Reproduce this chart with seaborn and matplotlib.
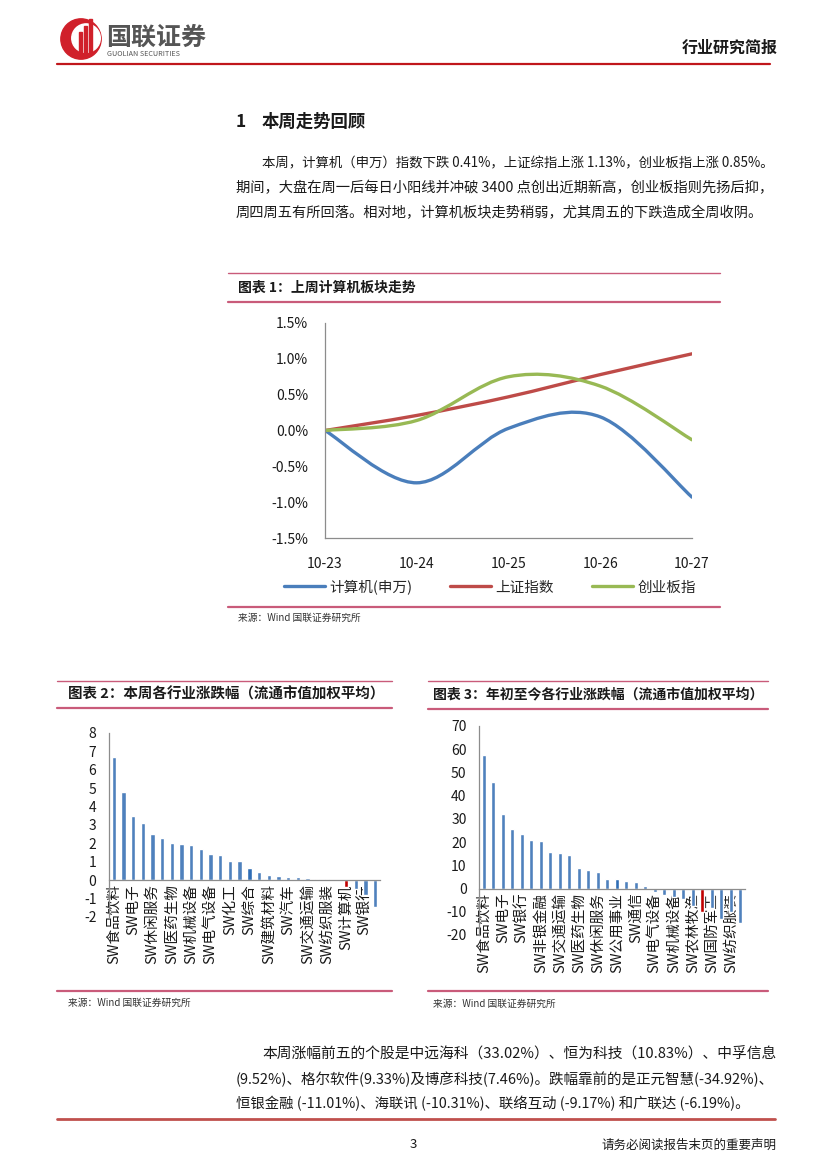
import numpy as np
import pandas as pd
import matplotlib
matplotlib.use('Agg')
import matplotlib.pyplot as plt
import seaborn as sns
from matplotlib.lines import Line2D
from matplotlib.path import Path
from matplotlib.patches import PathPatch, Circle, Rectangle

# ---- data ----
dates = ['10-23', '10-24', '10-25', '10-26', '10-27']
computer = [0.00, -0.73, 0.03, 0.19, -0.93]
shanghai = [0.00, 0.21, 0.47, 0.78, 1.07]
chinext = [0.00, 0.14, 0.75, 0.62, -0.13]
series_names = ['计算机(申万)', '上证指数', '创业板指']

week_labels = ['SW食品饮料', '', 'SW电子', '', 'SW休闲服务', '', 'SW医药生物', '',
               'SW机械设备', '', 'SW电气设备', '', 'SW化工', '', 'SW综合', '',
               'SW建筑材料', '', 'SW汽车', '', 'SW交通运输', '', 'SW纺织服装', '',
               'SW计算机', '', 'SW银行', '']
week_values = [6.70, 4.80, 3.50, 3.10, 2.50, 2.30, 2.01, 1.97, 1.92, 1.68,
               1.41, 1.39, 1.04, 1.04, 0.68, 0.46, 0.29, 0.24, 0.16, 0.15,
               0.11, 0.09, 0.05, 0.02, -0.38, -0.50, -0.80, -1.48]

ytd_labels = ['SW食品饮料', '', 'SW电子', '', 'SW银行', '', 'SW非银金融', '',
              'SW交通运输', '', 'SW医药生物', '', 'SW休闲服务', '', 'SW公用事业', '',
              'SW通信', '', 'SW电气设备', '', 'SW机械设备', '', 'SW农林牧渔', '',
              'SW国防军工', '', 'SW纺织服装', '']
ytd_values = [57.6, 45.9, 32.1, 25.6, 23.6, 21.0, 20.6, 15.6, 15.3, 14.3,
              8.9, 8.1, 7.3, 4.0, 4.0, 3.3, 2.7, 1.3, -1.6, -2.9,
              -3.6, -4.3, -7.6, -9.9, -8.2, -12.9, -10.3, -14.8]

# ---- style ----
W, H = 827, 1169
BLUE = '#4F81BD'
DARK_BLUE = '#2F6DB5'
BAR_RED = '#C00000'
LINE_COLORS = ['#4A7EBB', '#BE4B48', '#98B954']
PINK = '#C95B7A'
AXIS_GRAY = '#8C8C8C'
TEXT = '#1a1a1a'

sns.set_style('white')
plt.rcParams['font.family'] = ['Noto Sans CJK SC', 'DejaVu Sans']
plt.rcParams['axes.unicode_minus'] = False

fig = plt.figure(figsize=(W / 100, H / 100), dpi=100)
renderer = fig.canvas.get_renderer()


def rect(x0, y0, x1, y1):
    return [x0 / W, 1 - y1 / H, (x1 - x0) / W, (y1 - y0) / H]


def hline(x0, x1, y, color, lw):
    fig.add_artist(Line2D([x0 / W, x1 / W], [1 - y / H, 1 - y / H],
                          transform=fig.transFigure, color=color, lw=lw))


def put(x, y, s, size, ha='left', **kw):
    return fig.text(x / W, 1 - y / H, s, fontsize=size, ha=ha, va='center',
                    color=kw.pop('color', TEXT), **kw)


def fit(x0, x1, y, s, size, lo=0.9, hi=1.05, **kw):
    t = put(x0, y, s, size, **kw)
    w = t.get_window_extent(renderer).width
    ratio = min(max((x1 - x0) / w, lo), hi)
    t.set_fontsize(size * ratio)
    return t


# ---- header ----
logo = fig.add_axes(rect(60, 18, 102, 60))
logo.set_xlim(0, 1)
logo.set_ylim(0, 1)
logo.set_aspect('equal')
logo.axis('off')
logo.add_patch(Circle((0.5, 0.5), 0.48, color='#D0202A'))
logo.add_patch(Circle((0.62, 0.52), 0.34, color='white'))
for i, hgt in enumerate([0.55, 0.7, 0.85]):
    logo.add_patch(Rectangle((0.45 + i * 0.12, 0.12), 0.07, hgt, color='#D0202A'))
put(106, 38, '国联证券', 18, weight='bold', color='#555555')
put(107, 54, 'GUOLIAN SECURITIES', 5.2, color='#555555')
put(778, 48, '行业研究简报', 11.5, ha='right', weight='bold')
hline(57, 770, 64, '#C0161B', 1.6)

# ---- section 1 text ----
put(236, 122, '1', 12.5, weight='bold')
put(262, 122, '本周走势回顾', 12.5, weight='bold')
fit(262, 777, 163, '本周，计算机（申万）指数下跌 0.41%，上证综指上涨 1.13%，创业板指上涨 0.85%。', 10.5)
fit(236, 777, 188, '期间，大盘在周一后每日小阳线并冲破 3400 点创出近期新高，创业板指则先扬后抑，', 10.5)
fit(236, 765, 213, '周四周五有所回落。相对地，计算机板块走势稍弱，尤其周五的下跌造成全周收阴。', 10.5)

# ---- chart 1 ----
hline(228, 720, 273, PINK, 1.0)
hline(228, 720, 302, PINK, 1.6)
hline(228, 720, 607, PINK, 1.6)
put(238, 288, '图表 1：上周计算机板块走势', 10, weight='bold')
put(238, 618, '来源：Wind 国联证券研究所', 7, color='#333333')

ax1 = fig.add_axes(rect(325, 323, 692, 538))
xpos = np.arange(len(dates))
for vals, name, col in zip([computer, shanghai, chinext], series_names, LINE_COLORS):
    sns.lineplot(x=xpos, y=vals, color=col, lw=2.4, label=name, ax=ax1)
handles, labels = ax1.get_legend_handles_labels()
if ax1.get_legend() is not None:
    ax1.get_legend().remove()
fig.legend(handles, labels, loc='center', bbox_to_anchor=(490 / W, 1 - 587 / H),
           ncol=3, frameon=False, fontsize=10.5, handlelength=2.8,
           columnspacing=2.6, handletextpad=0.3)

# excel style smoothed lines (catmull-rom drawn as bezier curves)
for line in list(ax1.lines):
    pts = np.column_stack([line.get_xdata(), line.get_ydata()]).astype(float)
    n = len(pts)
    verts, codes = [pts[0]], [Path.MOVETO]
    for i in range(n - 1):
        p0, p1 = pts[max(i - 1, 0)], pts[i]
        p2, p3 = pts[i + 1], pts[min(i + 2, n - 1)]
        verts += [p1 + (p2 - p0) / 6, p2 - (p3 - p1) / 6, p2]
        codes += [Path.CURVE4] * 3
    ax1.add_patch(PathPatch(Path(verts, codes), fill=False, ec=line.get_color(),
                            lw=2.4, capstyle='round', joinstyle='round'))
    line.set_visible(False)

ax1.set_xlim(0, len(dates) - 1)
ax1.set_ylim(-1.5, 1.5)
ax1.set_yticks(np.arange(-1.5, 1.51, 0.5))
ax1.set_yticklabels([f'{v:.1f}%' for v in np.arange(-1.5, 1.51, 0.5)])
ax1.set_xticks(xpos)
ax1.set_xticklabels(dates)
ax1.tick_params(axis='both', labelsize=10, colors=TEXT, length=4, width=0.8,
                direction='out', pad=4)
ax1.tick_params(axis='x', pad=10, color=AXIS_GRAY)
ax1.tick_params(axis='y', color=AXIS_GRAY, pad=8)
for sp in ['top', 'right']:
    ax1.spines[sp].set_visible(False)
for sp in ['left', 'bottom']:
    ax1.spines[sp].set_color(AXIS_GRAY)
    ax1.spines[sp].set_linewidth(0.9)
ax1.set_xlabel('')
ax1.set_ylabel('')
ax1.set_facecolor('none')


# ---- bar charts ----
def bar_chart(box, labels, values, red_idx, dark_idx, ylim, ystep):
    ax = fig.add_axes(rect(*box))
    cats = [str(i) for i in range(len(values))]
    colors = {c: BLUE for c in cats}
    colors[cats[dark_idx]] = DARK_BLUE
    colors[cats[red_idx]] = BAR_RED
    df = pd.DataFrame({'cat': cats, 'value': values})
    sns.barplot(data=df, x='cat', y='value', hue='cat', palette=colors,
                legend=False, width=0.45, saturation=1, ax=ax)
    ax.set_xlim(-0.5, len(values) - 0.5)
    ax.set_ylim(*ylim)
    ax.set_yticks(np.arange(ylim[0], ylim[1] + 0.1, ystep))
    ax.set_xticks(range(len(values)))
    ax.set_xticklabels(labels)
    ax.set_xticks(np.arange(-0.5, len(values), 1), minor=True)
    ax.tick_params(axis='x', which='major', length=0, pad=3, labelrotation=90,
                   labelsize=10.5, labelcolor=TEXT)
    ax.tick_params(axis='x', which='minor', length=3, color=AXIS_GRAY, width=0.8)
    ax.tick_params(axis='y', labelsize=10, colors=TEXT, length=3,
                   color=AXIS_GRAY, pad=6)
    for t in ax.get_xticklabels():
        t.set_rotation(90)
        t.set_va('top')
        t.set_ha('center')
    for sp in ['top', 'right']:
        ax.spines[sp].set_visible(False)
    ax.spines['bottom'].set_position(('data', 0))
    for sp in ['left', 'bottom']:
        ax.spines[sp].set_color(AXIS_GRAY)
        ax.spines[sp].set_linewidth(0.9)
    ax.set_xlabel('')
    ax.set_ylabel('')
    ax.set_facecolor('none')
    return ax


hline(57, 392, 681, PINK, 1.0)
hline(57, 392, 708, PINK, 1.6)
hline(57, 392, 991, PINK, 1.6)
fit(68, 384, 694, '图表 2：本周各行业涨跌幅（流通市值加权平均）', 10, weight='bold')
put(68, 1003, '来源：Wind 国联证券研究所', 7, color='#333333')
bar_chart((109, 733, 380, 917), week_labels, week_values, 24, 14, (-2, 8), 1)

hline(428, 768, 681, PINK, 1.0)
hline(428, 768, 709, PINK, 1.6)
hline(428, 768, 991, PINK, 1.6)
fit(433, 764, 694, '图表 3：年初至今各行业涨跌幅（流通市值加权平均）', 10, weight='bold')
put(433, 1004, '来源：Wind 国联证券研究所', 7, color='#333333')
bar_chart((479, 726, 745, 935), ytd_labels, ytd_values, 23, 14, (-20, 70), 10)

# ---- bottom text ----
fit(262, 777, 1054, '本周涨幅前五的个股是中远海科（33.02%）、恒为科技（10.83%）、中孚信息', 10.5)
fit(236, 777, 1079, '(9.52%)、格尔软件(9.33%)及博彦科技(7.46%)。跌幅靠前的是正元智慧(-34.92%)、', 10.5)
fit(236, 752, 1104, '恒银金融 (-11.01%)、海联讯 (-10.31%)、联络互动 (-9.17%) 和广联达 (-6.19%)。', 10.5)

hline(57, 775, 1119, '#C0504D', 2.0)
put(413, 1145, '3', 9.5, ha='center')
put(777, 1145, '请务必阅读报告末页的重要声明', 9, ha='right')

fig.savefig('out.png', dpi=100)
